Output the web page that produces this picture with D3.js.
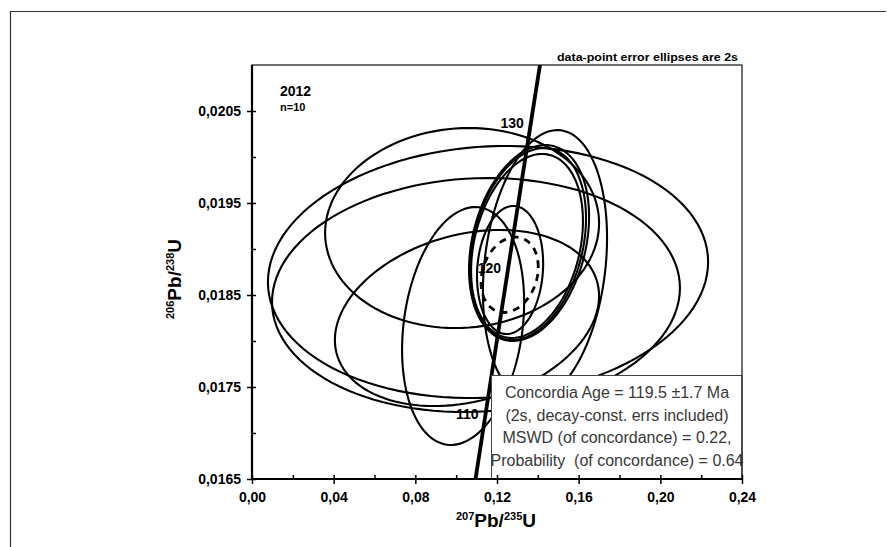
<!DOCTYPE html>
<html>
<head>
<meta charset="utf-8">
<script src="https://cdn.jsdelivr.net/npm/d3@7"></script>
<style>
  body { margin: 0; background: #fff; }
  svg { display: block; font-family: "Liberation Sans", Arial, sans-serif; }
</style>
</head>
<body>
<svg id="chart" width="887" height="547"></svg>
<script>
// data-point ellipses (2s), 207Pb/235U vs 206Pb/238U
const ratio207 = [0.1156, 0.1097, 0.1029, 0.1053, 0.1034, 0.1264, 0.1435, 0.1352, 0.1347, 0.1357];
const ratio206 = [0.01875, 0.01850, 0.019228, 0.01825, 0.018163, 0.018772, 0.018826, 0.019054, 0.019033, 0.019065];
const err207 = [0.1078, 0.0999, 0.0671, 0.0647, 0.0299, 0.0162, 0.0304, 0.0284, 0.0274, 0.0294];
const err206 = [0.00137, 0.001272, 0.001087, 0.000957, 0.001293, 0.000696, 0.001467, 0.001043, 0.001, 0.001065];
const rhos = [0.08, 0.06, 0.05, 0.25, 0.2, 0.1, 0.2, 0.27, 0.27, 0.27];

// concordia age ellipse (dashed)
const ageEllipse = { x: 0.1262, y: 0.01872, sx: 0.0140, sy: 0.000410, rho: 0.2 };

// concordia curve points (Ma)
const concAges = [100, 105, 110, 115, 120, 125, 130, 135];
const conc207 = [0.10350, 0.10894, 0.11442, 0.11992, 0.12545, 0.13100, 0.13659, 0.14220];
const conc206 = [0.015633, 0.016421, 0.017210, 0.018000, 0.018789, 0.019580, 0.020371, 0.021163];
const labeledAges = [110, 120, 130];

const xTicks = [0, 0.04, 0.08, 0.12, 0.16, 0.20, 0.24];
const xMinor = [0.02, 0.06, 0.10, 0.14, 0.18, 0.22];
const yTicks = [0.0165, 0.0175, 0.0185, 0.0195, 0.0205];
const yMinor = [0.0170, 0.0180, 0.0190, 0.0200];

const legendLines = [
  'Concordia Age = 119.5 \u00b11.7 Ma',
  '(2s, decay-const. errs included)',
  'MSWD (of concordance) = 0.22,',
  'Probability  (of concordance) = 0.64'
];

const svg = d3.select('#chart');

const plotLeft = 252, plotRight = 742, plotTop = 65, plotBottom = 479;
const x = d3.scaleLinear().domain([0, 0.24]).range([plotLeft, plotRight]);
const y = d3.scaleLinear().domain([0.0165, 0.021]).range([plotBottom, plotTop]);

// outer frame (only top and left visible)
svg.append('path')
  .attr('d', 'M10.5,547 L10.5,11.5 L886,11.5')
  .attr('fill', 'none')
  .attr('stroke', '#333')
  .attr('stroke-width', 1.2);

svg.append('clipPath').attr('id', 'plotclip')
  .append('rect')
  .attr('x', plotLeft).attr('y', plotTop)
  .attr('width', plotRight - plotLeft).attr('height', plotBottom - plotTop);

const plot = svg.append('g').attr('clip-path', 'url(#plotclip)');

// ellipse path from center, 2s errors and correlation
const ellipsePoints = (cx, cy, sx, sy, rho) => {
  const pts = [];
  const k = Math.sqrt(1 - rho * rho);
  for (let i = 0; i <= 120; i++) {
    const t = i / 120 * 2 * Math.PI;
    pts.push([x(cx + sx * Math.cos(t)), y(cy + sy * (rho * Math.cos(t) + k * Math.sin(t)))]);
  }
  return pts;
};
const line = d3.line();

ratio207.forEach((cx, i) => {
  plot.append('path')
    .attr('d', line(ellipsePoints(cx, ratio206[i], err207[i], err206[i], rhos[i])) + 'Z')
    .attr('fill', 'none')
    .attr('stroke', '#000')
    .attr('stroke-width', 2.1);
});

plot.append('path')
  .attr('d', line(ellipsePoints(ageEllipse.x, ageEllipse.y, ageEllipse.sx, ageEllipse.sy, ageEllipse.rho)) + 'Z')
  .attr('fill', 'none')
  .attr('stroke', '#000')
  .attr('stroke-width', 2.8)
  .attr('stroke-dasharray', '7,6');

// concordia
const concLine = d3.line()
  .x((d, i) => x(conc207[i]))
  .y((d, i) => y(conc206[i]));
plot.append('path')
  .attr('d', concLine(concAges))
  .attr('fill', 'none')
  .attr('stroke', '#000')
  .attr('stroke-width', 3.8);

// age labels
labeledAges.forEach(age => {
  const i = concAges.indexOf(age);
  svg.append('text')
    .attr('x', x(conc207[i]) - 7)
    .attr('y', y(conc206[i]) + 5)
    .attr('text-anchor', 'end')
    .attr('font-size', 14)
    .attr('font-weight', 'bold')
    .attr('fill', '#000')
    .text(age);
});

// legend box
const legend = svg.append('g');
legend.append('rect')
  .attr('x', 491.5).attr('y', 375.5)
  .attr('width', plotRight - 491.5).attr('height', plotBottom - 375.5)
  .attr('fill', '#fff')
  .attr('stroke', '#444')
  .attr('stroke-width', 1);
legendLines.forEach((txt, i) => {
  legend.append('text')
    .attr('x', 617)
    .attr('y', 398 + i * 22.5)
    .attr('text-anchor', 'middle')
    .attr('font-size', 16)
    .attr('fill', '#383838')
    .style('white-space', 'pre')
    .text(txt);
});

// plot frame
svg.append('rect')
  .attr('x', plotLeft).attr('y', plotTop)
  .attr('width', plotRight - plotLeft).attr('height', plotBottom - plotTop)
  .attr('fill', 'none')
  .attr('stroke', '#111')
  .attr('stroke-width', 1.2);
svg.append('path')
  .attr('d', `M${plotLeft},${plotTop} L${plotLeft},${plotBottom} L${plotRight},${plotBottom}`)
  .attr('fill', 'none')
  .attr('stroke', '#000')
  .attr('stroke-width', 2.2);

// axes
const xAxis = svg.append('g')
  .attr('transform', `translate(0,${plotBottom})`)
  .call(d3.axisBottom(x).tickValues(xTicks).tickSize(5).tickPadding(8)
    .tickFormat(d => d3.format('.2f')(d).replace('.', ',')));
xAxis.select('.domain').remove();
xAxis.selectAll('.tick line').attr('y1', -4).attr('y2', 5).attr('stroke-width', 1.5);
xAxis.selectAll('.tick text')
  .attr('font-size', 14).attr('font-weight', 'bold')
  .attr('font-family', '"Liberation Sans", Arial, sans-serif')
  .attr('fill', '#000');

const xMinorAxis = svg.append('g')
  .attr('transform', `translate(0,${plotBottom})`)
  .call(d3.axisBottom(x).tickValues(xMinor).tickSize(-4).tickFormat(''));
xMinorAxis.select('.domain').remove();
xMinorAxis.selectAll('.tick line').attr('stroke-width', 1.5);

const yAxis = svg.append('g')
  .attr('transform', `translate(${plotLeft},0)`)
  .call(d3.axisLeft(y).tickValues(yTicks).tickSize(5).tickPadding(6)
    .tickFormat(d => d3.format('.4f')(d).replace('.', ',')));
yAxis.select('.domain').remove();
yAxis.selectAll('.tick line').attr('x1', 4).attr('x2', -5).attr('stroke-width', 1.5);
yAxis.selectAll('.tick text')
  .attr('font-size', 14).attr('font-weight', 'bold')
  .attr('font-family', '"Liberation Sans", Arial, sans-serif')
  .attr('fill', '#000');

const yMinorAxis = svg.append('g')
  .attr('transform', `translate(${plotLeft},0)`)
  .call(d3.axisLeft(y).tickValues(yMinor).tickSize(-4).tickFormat(''));
yMinorAxis.select('.domain').remove();
yMinorAxis.selectAll('.tick line').attr('stroke-width', 1.5);

// axis titles
const isoLabel = (g, sup1, sup2) => {
  g.append('tspan').attr('font-size', 11).attr('dy', -7).text(sup1);
  g.append('tspan').attr('font-size', 19).attr('dy', 7).text('Pb/');
  g.append('tspan').attr('font-size', 11).attr('dy', -7).text(sup2);
  g.append('tspan').attr('font-size', 19).attr('dy', 7).text('U');
};

const xTitle = svg.append('text')
  .attr('x', 496).attr('y', 527)
  .attr('text-anchor', 'middle')
  .attr('font-weight', 'bold')
  .attr('fill', '#000');
isoLabel(xTitle, '207', '235');

const yTitle = svg.append('text')
  .attr('transform', 'translate(181,279) rotate(-90)')
  .attr('text-anchor', 'middle')
  .attr('font-weight', 'bold')
  .attr('fill', '#000');
isoLabel(yTitle, '206', '238');

// annotations
svg.append('text')
  .attr('x', 738).attr('y', 61)
  .attr('text-anchor', 'end')
  .attr('font-size', 11)
  .attr('font-weight', 'bold')
  .attr('textLength', 181)
  .attr('lengthAdjust', 'spacingAndGlyphs')
  .attr('fill', '#000')
  .text('data-point error ellipses are 2s');

svg.append('text')
  .attr('x', 280).attr('y', 96)
  .attr('font-size', 14)
  .attr('font-weight', 'bold')
  .attr('fill', '#000')
  .text('2012');

svg.append('text')
  .attr('x', 280).attr('y', 111)
  .attr('font-size', 11)
  .attr('font-weight', 'bold')
  .attr('fill', '#000')
  .text('n=10');
</script>
</body>
</html>
